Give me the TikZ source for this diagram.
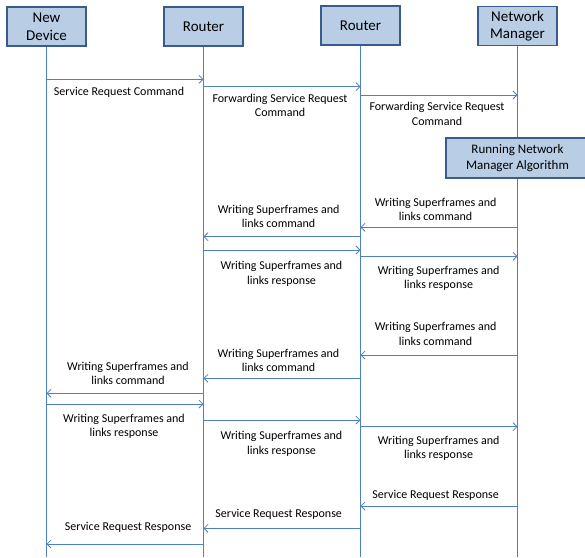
\documentclass[tikz,border=0pt]{standalone}
\usepackage{fontspec}
\setmainfont{Carlito}
\usetikzlibrary{arrows.meta}
\definecolor{boxfill}{HTML}{B9CDE5}
\definecolor{boxline}{HTML}{385D8A}
\definecolor{msgline}{HTML}{4F81BD}
\tikzset{
  actor/.style={draw=boxline, line width=1.6pt, fill=boxfill, minimum width=79pt, minimum height=39pt, align=center, inner sep=1pt, font=\fontsize{15}{17.5}\selectfont},
  life/.style={draw=msgline, line width=0.8pt},
  msg/.style={draw=msgline, line width=0.8pt, -{Straight Barb[length=4pt,width=8pt]}},
  lbl/.style={align=center, inner sep=0pt, font=\fontsize{12}{14.5}\selectfont}
}
\begin{document}
\begin{tikzpicture}[x=1pt,y=-1pt]
    \useasboundingbox (0,0) rectangle (585,557);

    % Actors
    \node[actor] (nd) at (46.5,26.5) {New\\Device};
    \node[actor] (ra) at (203.5,26.5) {Router};
    \node[actor] (rb) at (360.5,25.5) {Router};
    \node[actor] (nm) at (517.5,26) {Network\\Manager};

    % Lifelines
    \coordinate (ndEnd) at (nd |- 0,557);
    \coordinate (raEnd) at (ra |- 0,557);
    \coordinate (rbEnd) at (rb |- 0,557);
    \coordinate (nmEnd) at (nm |- 0,557);
    \draw[life] (nd.south) -- (ndEnd);
    \draw[life] (ra.south) -- (raEnd);
    \draw[life] (rb.south) -- (rbEnd);
    \draw[life] (nm.south) -- (nmEnd);

    % Algorithm box
    \node[actor, minimum width=143pt, minimum height=40pt, font=\fontsize{13}{16}\selectfont] (alg) at (517.5,158) {Running Network\\Manager Algorithm};

    % Service request
    \draw[msg] (nd |- 0,79.3) -- (ra |- 0,79.3);
    \node[lbl] (l1) at (119,92) {Service Request Command};
    \draw[msg] (ra |- 0,86.7) -- (rb |- 0,86.7);
    \node[lbl] (l2) at (280,105.5) {Forwarding Service Request\\Command};
    \draw[msg] (rb |- 0,95) -- (nm |- 0,95);
    \node[lbl] (l3) at (437,114) {Forwarding Service Request\\Command};

    % Superframes to router
    \draw[msg] (nm |- 0,227.3) -- (rb |- 0,227.3);
    \node[lbl] (l4) at (435.6,209.5) {Writing Superframes and\\links command};
    \draw[msg] (rb |- 0,236.7) -- (ra |- 0,236.7);
    \node[lbl] (l5) at (278.6,216.3) {Writing Superframes and\\links command};
    \draw[msg] (ra |- 0,250) -- (rb |- 0,250);
    \node[lbl] (l6) at (281.5,273.7) {Writing Superframes and\\links response};
    \draw[msg] (rb |- 0,256.3) -- (nm |- 0,256.3);
    \node[lbl] (l7) at (438.6,278.2) {Writing Superframes and\\links response};

    % Superframes to new device
    \draw[msg] (nm |- 0,355) -- (rb |- 0,355);
    \node[lbl] (l8) at (435.6,333.8) {Writing Superframes and\\links command};
    \draw[msg] (rb |- 0,378.3) -- (ra |- 0,378.3);
    \node[lbl] (l9) at (278.5,360.5) {Writing Superframes and\\links command};
    \draw[msg] (ra |- 0,393.3) -- (nd |- 0,393.3);
    \node[lbl] (l10) at (128,373.3) {Writing Superframes and\\links command};
    \draw[msg] (nd |- 0,404) -- (ra |- 0,404);
    \node[lbl] (l11) at (124,426.2) {Writing Superframes and\\links response};
    \draw[msg] (ra |- 0,420) -- (rb |- 0,420);
    \node[lbl] (l12) at (281.5,443.8) {Writing Superframes and\\links response};
    \draw[msg] (rb |- 0,426.7) -- (nm |- 0,426.7);
    \node[lbl] (l13) at (438.6,448.5) {Writing Superframes and\\links response};

    % Service response
    \draw[msg] (nm |- 0,506) -- (rb |- 0,506);
    \node[lbl] (l14) at (435.6,495) {Service Request Response};
    \draw[msg] (rb |- 0,528.3) -- (ra |- 0,528.3);
    \node[lbl] (l15) at (278.7,514) {Service Request Response};
    \draw[msg] (ra |- 0,544) -- (nd |- 0,544);
    \node[lbl] (l16) at (128,527.3) {Service Request Response};
\end{tikzpicture}
\end{document}
